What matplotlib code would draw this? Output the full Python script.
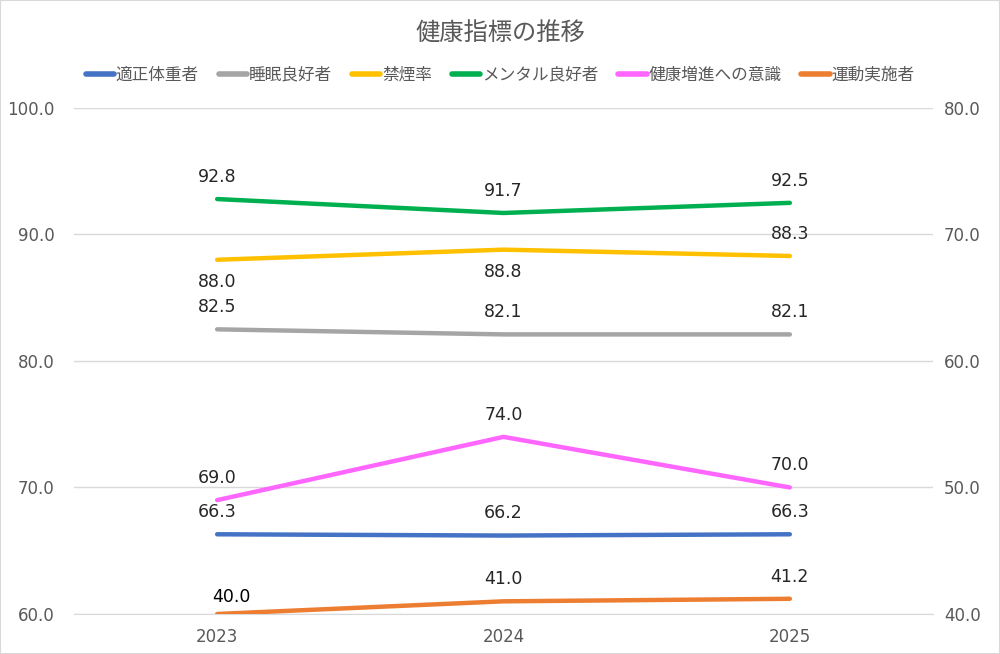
import matplotlib
matplotlib.use("Agg")
import matplotlib.pyplot as plt
from matplotlib.lines import Line2D

plt.rcParams['font.family'] = ['Noto Sans CJK JP', 'DejaVu Sans']

years = ["2023", "2024", "2025"]
title = "健康指標の推移"
names = ["適正体重者", "睡眠良好者", "禁煙率", "メンタル良好者", "健康増進への意識", "運動実施者"]
weight = [66.3, 66.2, 66.3]
sleep = [82.5, 82.1, 82.1]
nosmoke = [88.0, 88.8, 88.3]
mental = [92.8, 91.7, 92.5]
awareness = [69.0, 74.0, 70.0]
exercise = [40.0, 41.0, 41.2]  # secondary axis
colors = ["#4472C4", "#A5A5A5", "#FFC000", "#00B050", "#FF66FF", "#ED7D31"]
left_ticks = [60, 70, 80, 90, 100]
right_ticks = [40, 50, 60, 70, 80]

fig = plt.figure(figsize=(10, 6.54), dpi=100)
ax = fig.add_axes([0.074, 0.0612, 0.859, 0.7737])
ax2 = ax.twinx()

x = list(range(len(years)))
primary = [weight, sleep, nosmoke, mental, awareness]
# label placement: +1 above, -1 below
placements = [
    [1, 1, 1],
    [1, 1, 1],
    [-1, -1, 1],
    [1, 1, 1],
    [1, 1, 1],
]
for vals, c, pl in zip(primary, colors[:5], placements):
    ax.plot(x, vals, color=c, lw=3.2, solid_capstyle='round', zorder=3)
    for xi, v, p in zip(x, vals, pl):
        ax.annotate(f"{v:.1f}", (xi, v), xytext=(0, 16 * p), textcoords='offset points',
                    ha='center', va='center', fontsize=12.5, color='#262626',
                    family='DejaVu Sans')

ax2.plot(x, exercise, color=colors[5], lw=3.2, solid_capstyle='round', zorder=3)
ex_offsets = [(10, 12), (0, 16), (0, 16)]
for xi, v, off in zip(x, exercise, ex_offsets):
    ax2.annotate(f"{v:.1f}", (xi, v), xytext=off, textcoords='offset points',
                 ha='center', va='center', fontsize=12.5,
                 color='#000000' if xi == 0 else '#262626',
                 family='DejaVu Sans')

ax.set_xlim(-0.5, len(years) - 0.5)
ax.set_ylim(60, 100)
ax2.set_ylim(40, 80)
ax.set_yticks(left_ticks)
ax.set_yticklabels([f"{t:.1f}" for t in left_ticks], family='DejaVu Sans')
ax2.set_yticks(right_ticks)
ax2.set_yticklabels([f"{t:.1f}" for t in right_ticks], family='DejaVu Sans')
ax.set_xticks(x)
ax.set_xticklabels(years, family='DejaVu Sans')

for a in (ax, ax2):
    for s in a.spines.values():
        s.set_visible(False)
    a.tick_params(length=0, labelsize=12, colors='#595959')
ax.tick_params(axis='y', pad=14)
ax2.tick_params(axis='y', pad=8)
ax.tick_params(axis='x', pad=10)
ax.grid(axis='y', color='#D9D9D9', lw=1)
ax.set_axisbelow(True)
ax.spines['bottom'].set_visible(True)
ax.spines['bottom'].set_color('#D9D9D9')

fig.text(0.5, 0.949, title, ha='center', va='center', fontsize=17.5, color='#595959')

handles = [Line2D([0], [0], color=c, lw=4, solid_capstyle='round') for c in colors]
fig.legend(handles, names, loc='center', bbox_to_anchor=(0.5, 0.885), ncol=6,
           frameon=False, fontsize=12, handlelength=1.7, handletextpad=0.1,
           columnspacing=1.2, labelcolor='#595959')

fig.patches.append(plt.Rectangle((0, 0), 1, 1, transform=fig.transFigure,
                                 fill=False, edgecolor='#D9D9D9', lw=1.5))
fig.savefig("out.png", dpi=100)
